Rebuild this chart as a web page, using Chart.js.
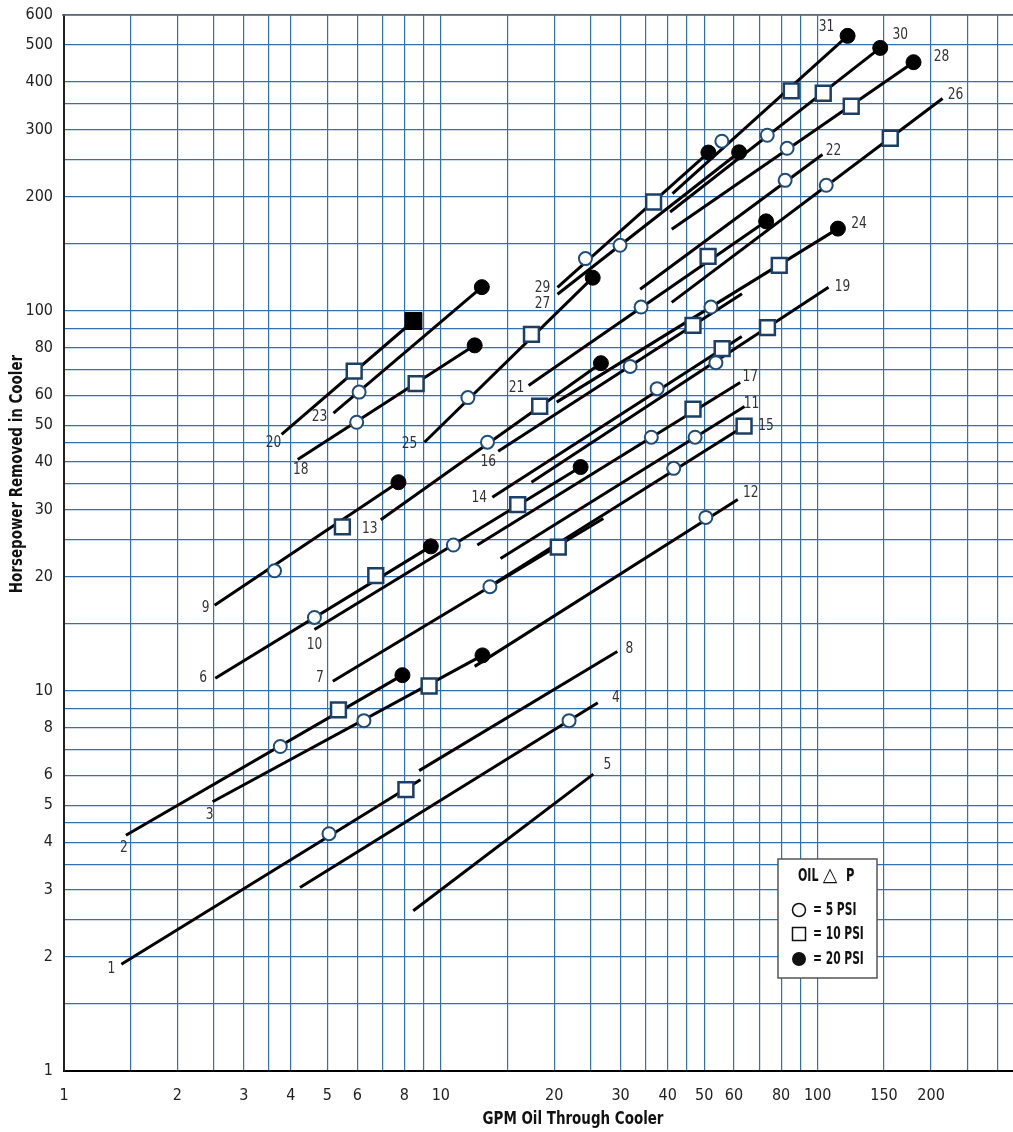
<!DOCTYPE html>
<html><head><meta charset="utf-8">
<script src="https://cdn.jsdelivr.net/npm/chart.js@4.4.1/dist/chart.umd.min.js"></script>
<style>html,body{margin:0;padding:0;background:#fff;overflow:hidden;}#wrap{width:1013px;height:1132px;position:relative;overflow:hidden;}canvas{display:block;}</style>
</head><body><div id="wrap"><canvas id="c"></canvas></div>
<script>
// ---- data (GPM, horsepower) ----
const lineIds = [1,2,3,4,5,6,7,8,9,10,11,12,13,14,15,16,17,18,19,20,21,22,23,24,25,26,27,28,29,30,31];
const startGpm = [1.42,1.46,2.48,4.23,8.45,2.52,5.17,8.76,2.51,4.62,14.4,12.3,6.93,13.7,13.2,14.2,12.5,4.17,17.4,3.78,17.1,33.8,5.19,20.3,9.05,41.0,20.4,41.0,20.4,40.6,41.2];
const startHp  = [1.91,4.17,5.11,3.04,2.64,10.8,10.6,6.17,16.8,14.5,22.3,11.6,28.2,32.3,18.6,42.7,24.2,40.6,35.4,47.3,63.6,113.9,53.8,57.5,45.1,105.2,110.5,163.8,115.2,181.9,203.4];
const endGpm   = [8.83,7.91,12.9,26.1,25.4,9.41,27.0,29.4,7.72,23.5,64.0,61.4,26.6,62.9,63.8,63.0,62.3,12.3,106.9,8.46,73.0,103.0,12.85,113.2,25.3,214.6,61.9,179.7,51.3,146.6,120.1];
const endHp    = [5.84,11.0,12.4,9.31,6.04,24.0,28.4,12.7,35.4,38.8,56.0,31.9,72.8,85.6,49.7,110.9,64.8,81.1,115.4,94.0,171.9,257.6,115.4,164.5,122.2,361.9,261.2,450.8,260.8,491.6,528.8];

const psi5Gpm  = [5.05,3.75,6.25,21.9,4.62,13.5,3.62,10.8,47.3,50.5,13.3,37.5,41.5,31.8,36.2,5.98,53.7,34.0,82.0,6.07,52.1,11.8,105.4,29.9,83.0,24.2,73.5,55.7];
const psi5Hp   = [4.21,7.14,8.35,8.35,15.6,18.8,20.7,24.2,46.5,28.6,45.1,62.4,38.5,71.4,46.5,50.9,73.0,102.3,220.4,61.1,102.3,59.1,213.9,148.7,267.6,137.2,289.6,279.3];
const psi10Gpm = [8.08,5.35,9.31,6.72,20.5,5.48,16.0,18.3,55.8,63.8,46.7,46.7,8.60,73.6,5.89,51.2,79.1,17.4,155.9,122.8,36.7,103.5,85.1];
const psi10Hp  = [5.50,8.91,10.3,20.1,23.9,27.0,30.9,56.1,79.5,49.7,91.5,55.1,64.3,90.3,69.4,139.1,131.7,86.7,284.4,345.3,193.3,373.6,378.9];
const psi20Gpm = [7.91,12.9,9.41,7.72,23.5,26.6,12.3,73.0,12.85,113.2,25.3,61.9,179.7,51.3,146.6,120.1];
const psi20Hp  = [11.0,12.4,24.0,35.4,38.8,72.8,81.1,171.9,115.4,164.5,122.2,261.2,450.8,260.8,491.6,528.8];
const psi20SquareGpm = [8.46];
const psi20SquareHp  = [94.0];

const xGridValues = [1,1.5,2,2.5,3,3.5,4,5,6,7,8,9,10,15,20,25,30,35,40,45,50,60,70,80,90,100,150,200,250,300];
const xTickLabels = [1,2,3,4,5,6,8,10,20,30,40,50,60,80,100,150,200];
const yGridValues = [1,1.5,2,2.5,3,3.5,4,4.5,5,6,7,8,9,10,15,20,25,30,35,40,45,50,60,70,80,90,100,150,200,250,300,350,400,500,600];
const yTickLabels = [1,2,3,4,5,6,8,10,20,30,40,50,60,80,100,200,300,400,500,600];

// ---- label placement (annotation layout, not data) ----
const labelAnchor = ['s','s','s','e','e','s','s','e','s','s','e','e','s','s','e','s','e','s','e','s','s','e','s','e','s','e','s','e','s','e','e'];
const labelOffset = [[-10,5],[-2,13],[-3,13],[18,-5],[14,-9],[-12,0],[-13,-3],[12,-3],[-9,3],[0,15],[7,-3],[13,-7],[-11,9],[-13,1],[22,0],[-10,11],[10,-6],[3,10],[14,0],[-8,8],[-12,2],[11,-4],[-14,4],[21,-5],[-15,2],[13,-4],[-15,10],[28,-5],[-15,0],[20,-13],[-21,-9]];

const NARROW = "'Liberation Sans Narrow','DejaVu Sans Condensed',sans-serif";
const pts = (xs, ys) => xs.map((x, i) => ({x, y: ys[i]}));

const lineSets = lineIds.map((id, i) => ({
  label: 'Line ' + id,
  data: [{x: startGpm[i], y: startHp[i]}, {x: endGpm[i], y: endHp[i]}],
  showLine: true, borderColor: '#000', borderWidth: 3, pointRadius: 0, order: 5
}));

const markerSets = [
  {label: '5 PSI', data: pts(psi5Gpm, psi5Hp), pointStyle: 'circle', pointRadius: 6.5,
   pointBackgroundColor: '#fff', pointBorderColor: '#1f4d7a', pointBorderWidth: 2, showLine: false, order: 1},
  {label: '10 PSI', data: pts(psi10Gpm, psi10Hp), pointStyle: 'rect', pointRadius: 10.5,
   pointBackgroundColor: '#fff', pointBorderColor: '#1b3f66', pointBorderWidth: 2.5, showLine: false, order: 1},
  {label: '20 PSI', data: pts(psi20Gpm, psi20Hp), pointStyle: 'circle', pointRadius: 7.5,
   pointBackgroundColor: '#000', pointBorderColor: '#000', pointBorderWidth: 1, showLine: false, order: 0},
  {label: '20 PSI sq', data: pts(psi20SquareGpm, psi20SquareHp), pointStyle: 'rect', pointRadius: 12,
   pointBackgroundColor: '#000', pointBorderColor: '#000', pointBorderWidth: 1, showLine: false, order: 0}
];

function squeezedText(ctx, text, x, y, sx, align) {
  ctx.save();
  ctx.translate(x, y);
  ctx.scale(sx, 1);
  ctx.textAlign = align;
  ctx.fillText(text, 0, 0);
  ctx.restore();
}

const overlay = {
  id: 'overlay',
  afterDatasetsDraw(chart) {
    const ctx = chart.ctx, xs = chart.scales.x, ys = chart.scales.y;
    ctx.save();
    ctx.font = '16px ' + NARROW;
    ctx.fillStyle = '#333';
    ctx.textBaseline = 'middle';
    lineIds.forEach((id, i) => {
      const s = labelAnchor[i] === 's';
      const px = xs.getPixelForValue(s ? startGpm[i] : endGpm[i]);
      const py = ys.getPixelForValue(s ? startHp[i] : endHp[i]);
      squeezedText(ctx, String(id), px + labelOffset[i][0], py + labelOffset[i][1], 0.85, 'center');
    });
    ctx.restore();
  },
  afterDraw(chart) {
    const ctx = chart.ctx, a = chart.chartArea;
    ctx.save();
    // top frame line
    ctx.strokeStyle = '#666'; ctx.lineWidth = 1.5;
    ctx.beginPath(); ctx.moveTo(a.left - 2, a.top); ctx.lineTo(a.right, a.top); ctx.stroke();
    // axis titles
    ctx.fillStyle = '#111';
    ctx.font = 'bold 18px ' + NARROW;
    ctx.textBaseline = 'middle';
    squeezedText(ctx, 'GPM Oil Through Cooler', 573, 1119, 0.83, 'center');
    ctx.save(); ctx.translate(17, 474); ctx.rotate(-Math.PI / 2);
    squeezedText(ctx, 'Horsepower Removed in Cooler', 0, 0, 0.83, 'center');
    ctx.restore();
    // legend box
    const bx = 778, by = 859, bw = 99, bh = 119;
    ctx.fillStyle = '#fff'; ctx.fillRect(bx, by, bw, bh);
    ctx.strokeStyle = '#555'; ctx.lineWidth = 1.5; ctx.strokeRect(bx, by, bw, bh);
    ctx.fillStyle = '#111';
    ctx.font = 'bold 17px ' + NARROW;
    squeezedText(ctx, 'OIL', 798, 877, 0.72, 'left');
    squeezedText(ctx, 'P', 846, 877, 0.75, 'left');
    ctx.font = '19px DejaVu Sans, sans-serif';
    squeezedText(ctx, '\u25B3', 830, 876, 1, 'center');
    ctx.font = 'bold 17px ' + NARROW;
    const sx = 799;
    ctx.lineWidth = 1.5; ctx.strokeStyle = '#111';
    ctx.beginPath(); ctx.arc(sx, 910, 6.5, 0, Math.PI * 2); ctx.stroke();
    ctx.strokeRect(sx - 6.5, 934 - 6.5, 13, 13);
    ctx.beginPath(); ctx.arc(sx, 959, 7, 0, Math.PI * 2); ctx.fill();
    squeezedText(ctx, '= 5 PSI', 813, 911, 0.7, 'left');
    squeezedText(ctx, '= 10 PSI', 813, 935, 0.7, 'left');
    squeezedText(ctx, '= 20 PSI', 813, 960, 0.7, 'left');
    ctx.restore();
  }
};

new Chart(document.getElementById('c'), {
  type: 'scatter',
  data: {datasets: [...markerSets, ...lineSets]},
  options: {
    responsive: true, maintainAspectRatio: false, animation: false, events: [],
    layout: {autoPadding: false, padding: {left: 0, right: 0, top: 15, bottom: 0}},
    plugins: {legend: {display: false}, tooltip: {enabled: false}},
    scales: {
      x: {
        type: 'logarithmic', min: 1, max: 330,
        afterBuildTicks: s => { s.ticks = xGridValues.map(v => ({value: v})); },
        afterFit: s => { s.height = 61; s.paddingLeft = 0; s.paddingRight = 0; s.paddingTop = 0; s.paddingBottom = 0; },
        grid: {color: '#3070b4', lineWidth: 1.2, drawTicks: false},
        border: {display: true, color: '#000', width: 2},
        ticks: {autoSkip: false, maxRotation: 0, padding: 15, color: '#222',
          font: {family: NARROW, size: 16},
          callback: v => xTickLabels.includes(v) ? String(v) : ''}
      },
      y: {
        type: 'logarithmic', min: 1, max: 600,
        afterBuildTicks: s => { s.ticks = yGridValues.map(v => ({value: v})); },
        afterFit: s => { s.width = 64; s.paddingLeft = 0; s.paddingRight = 0; s.paddingTop = 0; s.paddingBottom = 0; },
        grid: {color: '#3070b4', lineWidth: 1.2, drawTicks: false},
        border: {display: true, color: '#222', width: 2},
        ticks: {autoSkip: false, padding: 11, color: '#222',
          font: {family: NARROW, size: 16},
          callback: v => yTickLabels.includes(v) ? String(v) : ''}
      }
    }
  },
  plugins: [overlay]
});
</script></body></html>
